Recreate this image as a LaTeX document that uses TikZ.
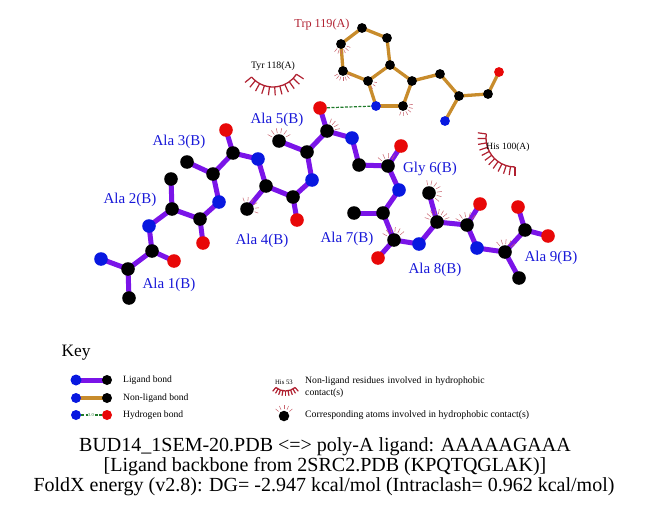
\documentclass[tikz,border=0pt]{standalone}
\usepackage{fontspec}
\setmainfont{Liberation Serif}
\usetikzlibrary{backgrounds,calc}
\definecolor{ligbond}{HTML}{7A14E8}
\definecolor{nonlig}{HTML}{C88C2C}
\definecolor{hbgreen}{HTML}{1F7A2A}
\definecolor{atomblue}{HTML}{0818E0}
\definecolor{atomred}{HTML}{E80808}
\definecolor{lashred}{HTML}{B02030}
\definecolor{labblue}{HTML}{1818D8}
\tikzset{
  atomb/.style={circle,inner sep=0pt,minimum size=13.6pt,fill=black},
  atomn/.style={circle,inner sep=0pt,minimum size=13.6pt,fill=atomblue},
  atomo/.style={circle,inner sep=0pt,minimum size=13.6pt,fill=atomred},
  small/.style={minimum size=#1},
  ligandbond/.style={line width=5pt,ligbond},
  nonligbond/.style={line width=3.3pt,nonlig},
  hbond/.style={line width=1.2pt,hbgreen,dash pattern=on 3pt off 1.5pt},
  reslabel/.style={text=labblue,font=\fontsize{15}{16}\selectfont,inner sep=0pt},
  keytext/.style={font=\fontsize{9.6}{12}\selectfont,inner sep=0pt,anchor=west,align=left},
  titletext/.style={font=\fontsize{20}{22}\selectfont,inner sep=0pt},
}
% centre x, centre y, radius, start, end, count, spoke length
\newcommand{\lashes}[7]{%
  \draw[lashred,line width=1.3pt] ({#1+#3*cos(#4)},{#2+#3*sin(#4)}) arc[start angle=#4,end angle=#5,radius=#3];
  \foreach \ii in {0,...,#6}{
    \pgfmathsetmacro{\aa}{#4+(#5-#4)*\ii/#6}
    \draw[lashred,line width=1.2pt] ({#1+#3*cos(\aa)},{#2+#3*sin(\aa)}) -- ({#1+(#3+#7)*cos(\aa)},{#2+(#3+#7)*sin(\aa)});
  }}
% atom name, start, end, count, inner radius, outer radius
\newcommand{\ticks}[6]{%
  \foreach \ii in {0,...,#4}{
    \pgfmathsetmacro{\aa}{#2+(#3-#2)*\ii/#4}
    \draw[lashred!70,line width=0.5pt] ($(#1.center)+({#5*cos(\aa)},{#5*sin(\aa)})$) -- ($(#1.center)+({#6*cos(\aa)},{#6*sin(\aa)})$);
  }}
\begin{document}
\begin{tikzpicture}[x=1pt,y=-1pt]
\useasboundingbox (0,0) rectangle (651,511);
% ligand atoms
\foreach \n/\s/\x/\y in {
 N1/atomn/101/259,CA1/atomb/128/269,CB1/atomb/129/298,C1/atomb/152/251,O1/atomo/174/261,
 N2/atomn/149/226,CA2/atomb/172/209,CB2/atomb/171/179,C2/atomb/200/219,O2/atomo/203/243,
 N3/atomn/219/202,CA3/atomb/213/174,CB3/atomb/187/162,C3/atomb/233/153,O3/atomo/226/130,
 N4/atomn/258/159,CA4/atomb/266/186,CB4/atomb/247/209,C4/atomb/293/197,O4/atomo/297/220,
 N5/atomn/312/180,CA5/atomb/307/152,CB5/atomb/279/141,C5/atomb/327/131,O5/atomo/320/108,
 N6/atomn/352/138,CA6/atomb/359/165,C6/atomb/388/166,O6/atomo/401/146,
 N7/atomn/399/190,CA7/atomb/383/213,CB7/atomb/354/213,C7/atomb/394/240,O7/atomo/378/258,
 N8/atomn/419/244,CA8/atomb/437/222,CB8/atomb/429/193,C8/atomb/467/225,O8/atomo/480/204,
 N9/atomn/477/248,CA9/atomb/505/252,CB9/atomb/519/278,C9/atomb/525/230,P9/atomo/518/207,Q9/atomo/548/236}
 {\node[\s] (\n) at (\x,\y) {};}
% Trp atoms
\foreach \n/\s/\x/\y in {
 Ta/atomb/362/28,Tb/atomb/387/38,Tc/atomb/341/44,Td/atomb/390/65,Te/atomb/343/71,
 Tf/atomb/368/81,Tg/atomb/412/81,Th/atomb/440/74,Ti/atomo/499/72,Tj/atomb/459/96,
 Tk/atomb/488/94,TN/atomn/376/106,Tl/atomb/403/106,Tm/atomn/445/121}
 {\node[\s,small=9.8pt] (\n) at (\x,\y) {};}
\begin{scope}[on background layer]
\foreach \a/\b in {N1/CA1,CA1/CB1,CA1/C1,C1/O1,C1/N2,N2/CA2,CA2/CB2,CA2/C2,C2/O2,C2/N3,N3/CA3,CA3/CB3,CA3/C3,C3/O3,C3/N4,
 N4/CA4,CA4/CB4,CA4/C4,C4/O4,C4/N5,N5/CA5,CA5/CB5,CA5/C5,C5/O5,C5/N6,N6/CA6,CA6/C6,C6/O6,C6/N7,N7/CA7,CA7/CB7,CA7/C7,C7/O7,
 C7/N8,N8/CA8,CA8/CB8,CA8/C8,C8/O8,C8/N9,N9/CA9,CA9/CB9,CA9/C9,C9/P9,C9/Q9}
 {\draw[ligandbond] (\a.center) -- (\b.center);}
\foreach \a/\b in {Ta/Tb,Ta/Tc,Tb/Td,Tc/Te,Te/Tf,Tf/Td,Td/Tg,Tf/TN,TN/Tl,Tl/Tg,Tg/Th,Th/Tj,Tj/Tk,Tk/Ti,Tj/Tm}
 {\draw[nonligbond] (\a.center) -- (\b.center);}
\end{scope}
\draw[hbond] (O5) -- (TN);
% atom contact marks
\ticks{Tc}{20}{130}{5}{6}{10}
\ticks{Te}{30}{150}{6}{6}{10}
\ticks{Tf}{10}{60}{2}{6}{9}
\ticks{Tl}{-10}{110}{5}{6}{10}
\ticks{C5}{-70}{-10}{3}{8}{13}
\ticks{CB5}{-150}{-30}{5}{8}{13}
\ticks{CB4}{-110}{20}{5}{8}{12}
\ticks{C6}{-140}{-60}{3}{8}{13}
\ticks{CB8}{-100}{40}{6}{8}{13}
\ticks{CA8}{-160}{-20}{7}{8}{13}
\ticks{C8}{-150}{-50}{4}{8}{13}
\ticks{C7}{-150}{-40}{5}{8}{13}
\ticks{CA9}{-130}{-40}{4}{8}{13}
% residue contacts
\lashes{273}{59}{28}{140}{33}{10}{8.5}
\lashes{515}{138}{29}{188}{90}{11}{8.5}
% labels
\node[text=lashred,font=\fontsize{12.2}{14}\selectfont,inner sep=0pt] (trp) at (322,25) {Trp 119(A)};
\node[font=\fontsize{9.8}{12}\selectfont,inner sep=0pt] (tyr) at (273,66) {Tyr 118(A)};
\node[font=\fontsize{9.5}{12}\selectfont,inner sep=0pt] (his) at (508,147) {His 100(A)};
\node[reslabel] (l1) at (169,284.5) {Ala 1(B)};
\node[reslabel] (l2) at (130,199.5) {Ala 2(B)};
\node[reslabel] (l3) at (179,142) {Ala 3(B)};
\node[reslabel] (l4) at (262,241) {Ala 4(B)};
\node[reslabel] (l5) at (277,120) {Ala 5(B)};
\node[reslabel] (l6) at (430,169) {Gly 6(B)};
\node[reslabel] (l7) at (347,239) {Ala 7(B)};
\node[reslabel] (l8) at (435,270) {Ala 8(B)};
\node[reslabel] (l9) at (551,258) {Ala 9(B)};
% key
\node[font=\fontsize{17.4}{20}\selectfont,inner sep=0pt] (key) at (76,353) {Key};
\node[atomn,small=11pt] (k1a) at (76,380) {};
\node[atomb,small=10pt] (k1b) at (107,380) {};
\node[atomn,small=10pt] (k2a) at (76,398) {};
\node[atomb,small=10pt] (k2b) at (107,398) {};
\node[atomn,small=10pt] (k3a) at (76,415) {};
\node[atomo,small=10pt] (k3b) at (107,415) {};
\begin{scope}[on background layer]
\draw[ligandbond] (k1a.center) -- (k1b.center);
\draw[nonligbond] (k2a.center) -- (k2b.center);
\end{scope}
\draw[hbond] (k3a) -- (k3b);
\node[fill=white,inner sep=0.5pt,text=hbgreen,font=\fontsize{4.5}{4.5}\selectfont] (k3t) at (91,415) {3.0};
\node[keytext] (kt1) at (123,380) {Ligand bond};
\node[keytext] (kt2) at (123,398) {Non-ligand bond};
\node[keytext] (kt3) at (123,415) {Hydrogen bond};
\node[font=\fontsize{6.7}{7}\selectfont,inner sep=0pt] (h53) at (284,382.5) {His 53};
\lashes{285.5}{376}{15}{130}{50}{8}{5}
\node[atomb,small=10.5pt] (k4) at (284,416) {};
\ticks{k4}{-140}{-40}{4}{7}{11}
\node[keytext,text width=230pt,font=\fontsize{9.7}{12}\selectfont,anchor=north west] (kt4) at (305,376.5) {Non-ligand residues involved in hydrophobic\\contact(s)};
\node[keytext,font=\fontsize{9.8}{12}\selectfont] (kt5) at (305,415) {Corresponding atoms involved in hydrophobic contact(s)};
% title
\node[titletext] (t1) at (325,447) {BUD14\_1SEM-20.PDB <=> poly-A ligand: AAAAAGAAA};
\node[titletext] (t2) at (325,467) {[Ligand backbone from 2SRC2.PDB (KPQTQGLAK)]};
\node[titletext] (t3) at (324,487) {FoldX energy (v2.8): DG= -2.947 kcal/mol (Intraclash= 0.962 kcal/mol)};
\end{tikzpicture}
\end{document}
